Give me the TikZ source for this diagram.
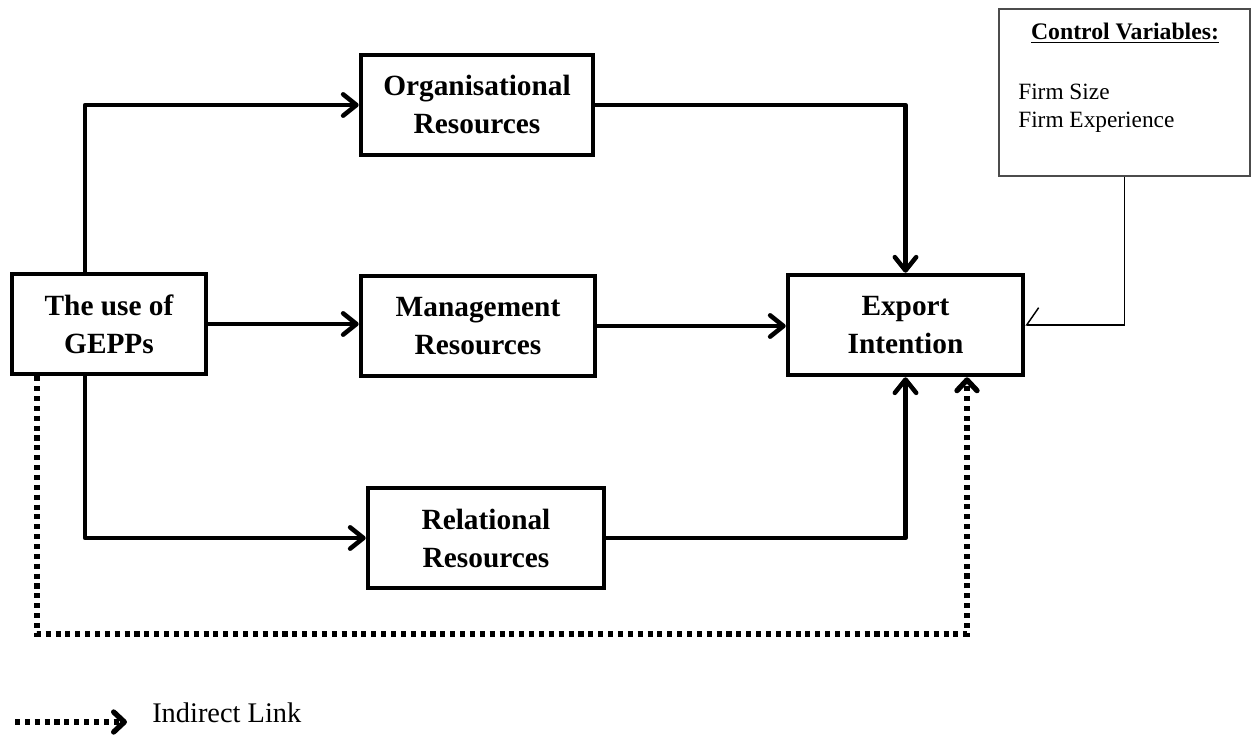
\documentclass[tikz,border=0pt]{standalone}
\usepackage{fontspec}
\setmainfont{Liberation Serif}
\usetikzlibrary{arrows.meta,calc}

\begin{document}
\begin{tikzpicture}[x=0.75pt,y=-0.75pt,
  box/.style={draw,line width=3.4pt,fill=white,align=center,inner sep=0pt,
    font=\fontsize{22}{28.5}\selectfont\bfseries},
  link/.style={line width=3.4pt,line join=round,
    -{Straight Barb[length=10pt,width=16pt,line cap=round,line join=round]}},
  indirect/.style={line width=4pt,dash pattern=on 3.8pt off 3.6pt,
    -{Straight Barb[length=8pt,width=15pt,line cap=round,line join=round]}},
  ctrl/.style={line width=1.1pt,
    -{Straight Barb[right,length=9pt,width=26pt]}}
]
\useasboundingbox (0,0) rectangle (1252,735);

% main boxes
\node[box,minimum width=145.5pt,minimum height=75pt] (g) at (109,324) {The use of\\GEPPs};
\node[box,minimum width=174pt,minimum height=75pt] (o) at (477,105) {Organisational\\Resources};
\node[box,minimum width=175.5pt,minimum height=75pt] (m) at (478,326) {Management\\Resources};
\node[box,minimum width=177pt,minimum height=75pt] (r) at (486,538) {Relational\\Resources};
\node[box,minimum width=176.25pt,minimum height=75pt] (e) at (905.5,325) {Export\\Intention};

% control variables box
\node[draw=black!70,line width=1pt,minimum width=188.25pt,minimum height=125.25pt] (c) at (1124.5,92.5) {};
\node[font=\fontsize{17.8}{20}\selectfont\bfseries] (ct) at (1125,33) {\underline{Control Variables:}};
\node[font=\fontsize{17.5}{21}\selectfont,anchor=north west,align=left,inner sep=0pt] (cv) at (1018,84) {Firm Size\\Firm Experience};

% routing coordinates
\coordinate (gx) at (85,0);
\coordinate (dl) at (37,0);
\coordinate (dr) at (967,634);

% direct links
\draw[link] (g.north -| gx) |- (o.west);
\draw[link] (g.east) -- (g.east -| m.west);
\draw[link] (g.south -| gx) |- (r.west);
\draw[link] (o.east) -| (e.north);
\draw[link] (m.east) -- (m.east -| e.west);
\draw[link] (r.east) -| (e.south);

% indirect link
\draw[indirect] (g.south -| dl) |- (dr) -- (e.south -| dr);

% control link
\draw[ctrl] (c.south) |- (e.east);

% legend
\coordinate (la) at (15,722);
\coordinate (lb) at (127,722);
\draw[indirect] (la) -- (lb);
\node[font=\fontsize{21.3}{24}\selectfont,anchor=west,inner sep=0pt] (lt) at (152,713) {Indirect Link};
\end{tikzpicture}
\end{document}
